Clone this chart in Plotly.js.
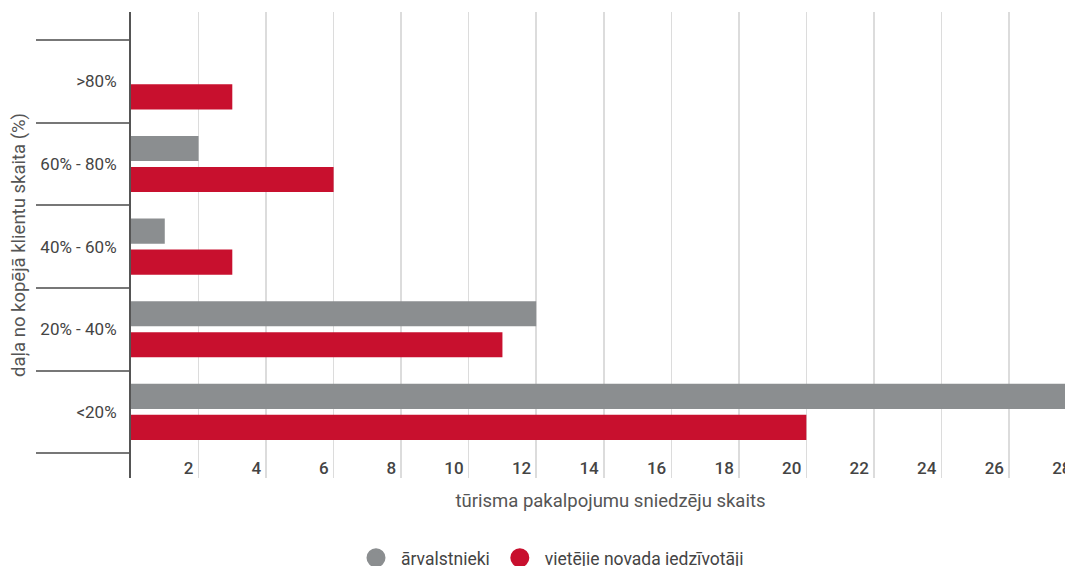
<!DOCTYPE html>
<html>
<head>
<meta charset="utf-8">
<script src="https://cdn.plot.ly/plotly-3.0.1.min.js"></script>
<style>
html,body{margin:0;padding:0;overflow:hidden;background:#fff;}
#chart{width:1100px;height:566px;}
</style>
</head>
<body>
<div id="chart"></div>
<script>
const categories = ["<20%", "20% - 40%", "40% - 60%", "60% - 80%", ">80%"];
const arvalstnieki = [28, 12, 1, 2, 0];
const vietejie = [20, 11, 3, 6, 3];
const seriesNames = ["ārvalstnieki", "vietējie novada iedzīvotāji"];
const seriesColors = ["#8b8e90", "#c8102e"];
const xTickVals = [2, 4, 6, 8, 10, 12, 14, 16, 18, 20, 22, 24, 26, 28];

const traces = [
  {type: "bar", orientation: "h", y: categories, x: vietejie, name: seriesNames[1],
   marker: {color: seriesColors[1]}, showlegend: false, hoverinfo: "x+y"},
  {type: "bar", orientation: "h", y: categories, x: arvalstnieki, name: seriesNames[0],
   marker: {color: seriesColors[0]}, showlegend: false, hoverinfo: "x+y"},
  {type: "scatter", mode: "markers", x: [null], y: [null], name: seriesNames[0],
   marker: {color: seriesColors[0], size: 20, symbol: "circle", line: {color: seriesColors[0], width: 3}}, showlegend: true},
  {type: "scatter", mode: "markers", x: [null], y: [null], name: seriesNames[1],
   marker: {color: seriesColors[1], size: 20, symbol: "circle", line: {color: seriesColors[1], width: 3}}, showlegend: true}
];

const layout = {
  width: 1100, height: 566,
  margin: {l: 131, r: 10, t: 12, b: 88},
  paper_bgcolor: "#fff", plot_bgcolor: "#fff",
  font: {family: "Roboto, sans-serif", color: "#444", size: 17},
  barmode: "group", bargap: 0.25, bargroupgap: 0.19,
  xaxis: {
    range: [0, 28.4],
    tickvals: xTickVals,
    ticks: "",
    ticklabelposition: "inside left",
    ticklabelshift: -5,
    ticklabelstandoff: -5,
    tickfont: {size: 17, color: "#444", family: "Roboto, sans-serif", weight: 500},
    showgrid: true, gridcolor: "#dcdcdc", gridwidth: 1.5,
    zeroline: false, showline: false,
    title: {text: "tūrisma pakalpojumu sniedzēju skaits", font: {size: 18.5, color: "#555"}, standoff: 17}
  },
  yaxis: {
    type: "category",
    categoryorder: "array", categoryarray: categories,
    range: [-0.8, 4.84],
    tickson: "boundaries",
    ticks: "outside", ticklen: 93, tickwidth: 2, tickcolor: "#777",
    ticklabelstandoff: 9,
    tickfont: {size: 17, color: "#444"},
    showline: true, linecolor: "#555", linewidth: 2,
    showgrid: false, zeroline: false,
    title: {text: "daļa no kopējā klientu skaita (%)", font: {size: 18.5, color: "#555"}, standoff: 10}
  },
  legend: {
    orientation: "h", xref: "container", yref: "container",
    x: 0.5, xanchor: "center", y: 0.046, yanchor: "top",
    font: {size: 17.5, color: "#444"}, itemsizing: "trace", itemwidth: 40
  },
  showlegend: true
};

Plotly.newPlot("chart", traces, layout, {displayModeBar: false, staticPlot: true});
</script>
</body>
</html>
